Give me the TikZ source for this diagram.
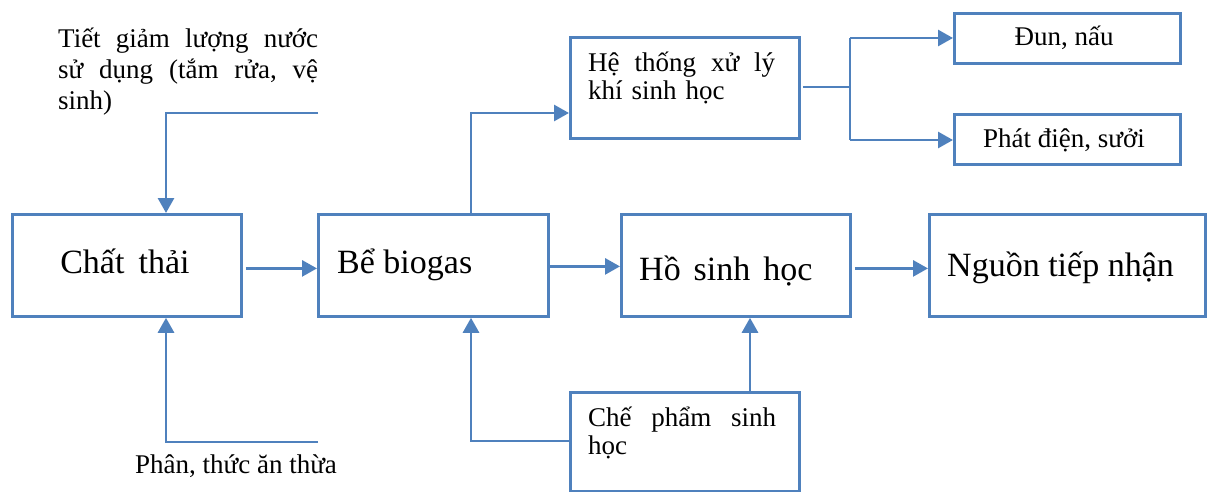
\documentclass[tikz,border=0pt]{standalone}
\usepackage{fontspec}
\setmainfont{Liberation Serif}
\usetikzlibrary{arrows.meta}
\definecolor{flow}{HTML}{4F81BD}

\begin{document}
\begin{tikzpicture}[x=1pt,y=-1pt,
  box/.style={draw=flow, line width=2.8pt, inner sep=0pt, anchor=north west},
  link/.style={draw=flow, line width=2.8pt},
  arr/.style={link, -{Triangle[length=15pt,width=16pt]}},
  smalltxt/.style={font=\fontsize{27}{28}\selectfont, inner sep=0pt},
  bigtxt/.style={font=\fontsize{34}{36}\selectfont, inner sep=0pt},
]
\useasboundingbox[fill=white] (0,0) rectangle (1210,492);

% process boxes
\node[box, minimum width=229pt, minimum height=102pt] (chat)  at (11,213)  {};
\node[box, minimum width=230pt, minimum height=102pt] (be)    at (317,213) {};
\node[box, minimum width=229pt, minimum height=102pt] (ho)    at (620,213) {};
\node[box, minimum width=276pt, minimum height=102pt] (nguon) at (928,213) {};
\node[box, minimum width=229pt, minimum height=101pt] (he)    at (569,36)  {};
\node[box, minimum width=229pt, minimum height=99pt]  (che)   at (569,391) {};
\node[box, minimum width=226pt, minimum height=50pt]  (dun)   at (953,12)  {};
\node[box, minimum width=226pt, minimum height=50pt]  (phat)  at (953,113) {};

% box labels
\node[bigtxt, anchor=base] (chattxt) at (125,273) {Chất\, thải};
\node[bigtxt, anchor=base west] (betxt) at (337,273) {Bể biogas};
\node[bigtxt, anchor=base west] (hotxt) at (639,280) {Hồ\hspace{4.5pt} sinh\hspace{4.5pt} học};
\node[bigtxt, anchor=base west] (nguontxt) at (947,276) {Nguồn tiếp nhận};
\node[smalltxt, anchor=base] (duntxt) at (1064,46) {Đun, nấu};
\node[smalltxt, anchor=base] (phattxt) at (1064,147) {Phát điện, sưởi};
\node[smalltxt, anchor=base west, text width=187pt, align=left] (hetxt) at (588,72)
  {Hệ\hfill thống\hfill xử\hfill lý\\khí sinh học};
\node[smalltxt, anchor=base west, text width=188pt, align=left] (chetxt) at (588,426)
  {Chế\hfill phẩm\hfill sinh\\học};

% free-standing inputs
\node[smalltxt, font=\fontsize{27}{31}\selectfont, anchor=base west, text width=260pt, align=left] (tiet) at (58,48)
  {Tiết\hfill giảm\hfill lượng\hfill nước\\sử\hfill dụng\hfill (tắm\hfill rửa,\hfill vệ\\sinh)};
\node[smalltxt, anchor=base west] (phan) at (135,473) {Phân, thức ăn thừa};

% connectors
\coordinate (tietEnd) at (318,113);
\coordinate (tietCorner) at (166,113);
\draw[arr] (tietEnd) -- (tietCorner) -- (tietCorner |- chat.north);

\coordinate (phanEnd) at (318,442);
\coordinate (phanCorner) at (166,442);
\draw[arr] (phanEnd) -- (phanCorner) -- (phanCorner |- chat.south);

\path ([shift={(3,3)}]chat.east) coordinate (chatOut);
\draw[arr] (chatOut) -- (chatOut -| be.west);

\path ([shift={(0,1)}]be.east) coordinate (beOut);
\draw[arr] (beOut) -- (beOut -| ho.west);

\path ([shift={(3,3)}]ho.east) coordinate (hoOut);
\draw[arr] (hoOut) -- (hoOut -| nguon.west);

\coordinate (beUp) at (471,113);
\draw[arr] (beUp |- be.north) -- (beUp) -- (beUp -| he.west);

\coordinate (split) at (850,87);
\coordinate (splitTop) at (850,38);
\coordinate (splitBot) at (850,140);
\draw[link] ([xshift=2pt]he.east |- split) -- (split);
\draw[link] (splitTop) -- (splitBot);
\draw[arr] (splitTop) -- (splitTop -| dun.west);
\draw[arr] (splitBot) -- (splitBot -| phat.west);

\coordinate (cheCorner) at (471,441);
\draw[arr] (che.west |- cheCorner) -- (cheCorner) -- (cheCorner |- be.south);

\coordinate (cheUp) at (750,391);
\draw[arr] (cheUp |- che.north) -- (cheUp |- ho.south);
\end{tikzpicture}
\end{document}
